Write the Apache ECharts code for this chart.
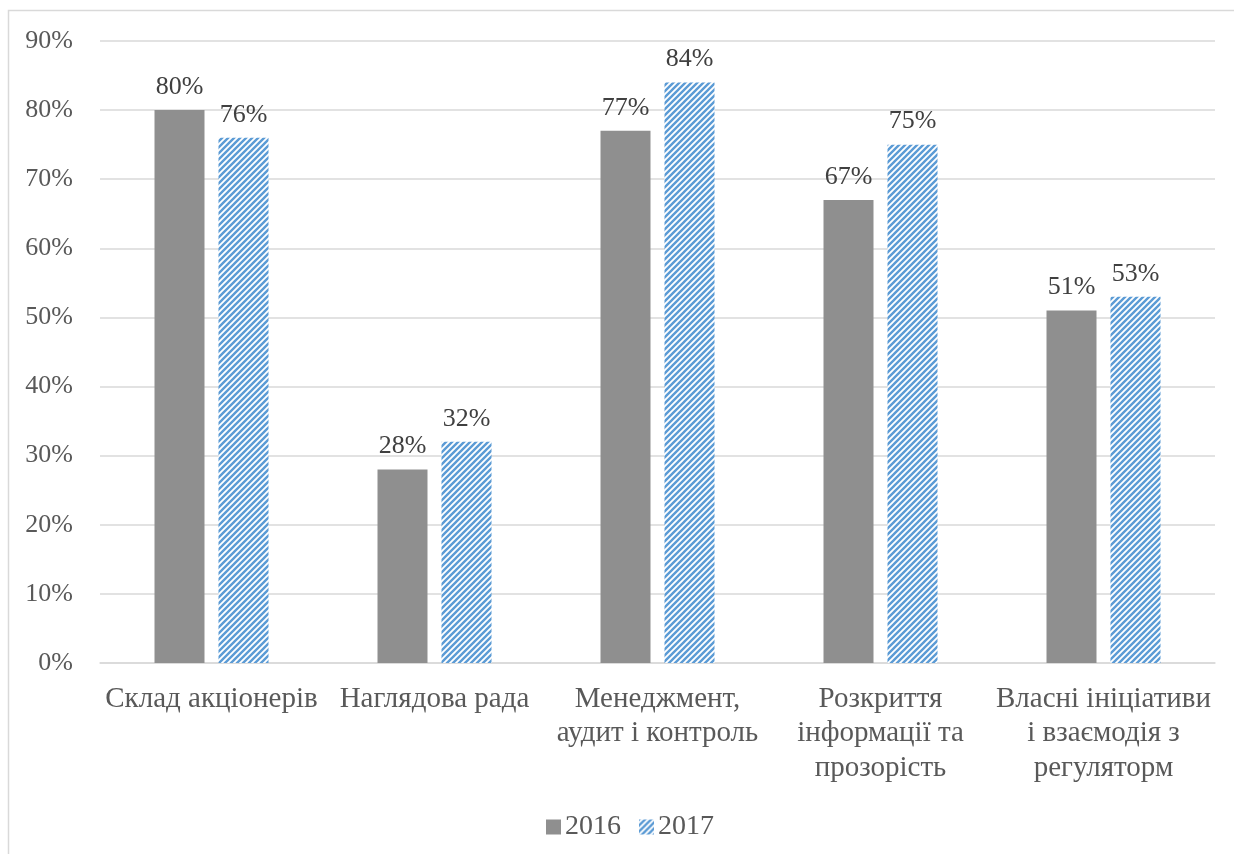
<!DOCTYPE html>
<html>
<head>
<meta charset="utf-8">
<script src="https://cdn.jsdelivr.net/npm/echarts@6/dist/echarts.min.js"></script>
<style>
  html, body { margin: 0; padding: 0; background: #fff; }
  #chart { width: 1234px; height: 854px; }
</style>
</head>
<body>
<div id="chart"></div>
<script>
// Categories (wrapped the way they appear under the axis)
const categories = [
  'Склад акціонерів',
  'Наглядова рада',
  'Менеджмент,\nаудит і контроль',
  'Розкриття\nінформації та\nпрозорість',
  'Власні ініціативи\nі взаємодія з\nрегуляторм'
];
const seriesNames = ['2016', '2017'];
const values2016 = [80, 28, 77, 67, 51];
const values2017 = [76, 32, 84, 75, 53];
const yTicks = { min: 0, max: 90, interval: 10 };

const FONT = '"Liberation Serif", "DejaVu Serif", serif';
const TEXT = '#595959';

// Diagonal blue hatch used for the 2017 bars
function makeHatch() {
  const s = 6;
  const c = document.createElement('canvas');
  c.width = s; c.height = s;
  const g = c.getContext('2d');
  g.fillStyle = '#ffffff';
  g.fillRect(0, 0, s, s);
  g.strokeStyle = '#5B9BD5';
  g.lineWidth = 2.4;
  g.lineCap = 'square';
  g.beginPath();
  g.moveTo(-1, s + 1); g.lineTo(s + 1, -1);
  g.moveTo(-1, 1); g.lineTo(1, -1);
  g.moveTo(s - 1, s + 1); g.lineTo(s + 1, s - 1);
  g.stroke();
  return c;
}
const hatch = { image: makeHatch(), repeat: 'repeat' };

const chart = echarts.init(document.getElementById('chart'), null, { renderer: 'canvas' });

const labelStyle = {
  show: true,
  position: 'top',
  distance: 10,
  formatter: p => p.value + '%',
  fontFamily: FONT,
  fontSize: 26,
  color: '#404040'
};

chart.setOption({
  backgroundColor: '#ffffff',
  animation: false,
  graphic: [{
    type: 'rect',
    shape: { x: 8.5, y: 10.5, width: 1300, height: 900 },
    style: { fill: 'none', stroke: '#d9d9d9', lineWidth: 1.5 },
    silent: true,
    z: -1
  }],
  grid: { left: 100, right: 19, top: 41, bottom: 191, containLabel: false },
  legend: {
    data: seriesNames,
    top: 808,
    left: 541,
    itemWidth: 15,
    itemHeight: 15,
    itemGap: 18,
    textStyle: { fontFamily: FONT, fontSize: 28, color: TEXT, padding: [0, 0, 0, -1] },
    icon: 'rect'
  },
  xAxis: {
    type: 'category',
    data: categories,
    axisLine: { lineStyle: { color: '#d9d9d9', width: 1.5 } },
    axisTick: { show: false },
    axisLabel: {
      interval: 0,
      margin: 19,
      fontFamily: FONT,
      fontSize: 29,
      lineHeight: 34.5,
      color: TEXT,
      align: 'center'
    }
  },
  yAxis: {
    type: 'value',
    min: yTicks.min,
    max: yTicks.max,
    interval: yTicks.interval,
    axisLine: { show: false },
    axisTick: { show: false },
    splitLine: { lineStyle: { color: '#d9d9d9', width: 1.5 } },
    axisLabel: {
      formatter: '{value}%',
      margin: 27,
      fontFamily: FONT,
      fontSize: 26,
      color: TEXT
    }
  },
  series: [
    {
      name: seriesNames[0],
      type: 'bar',
      data: values2016,
      barWidth: 50,
      barGap: '28%',
      itemStyle: { color: '#8f8f8f' },
      label: labelStyle
    },
    {
      name: seriesNames[1],
      type: 'bar',
      data: values2017,
      barWidth: 50,
      itemStyle: { color: hatch },
      label: labelStyle
    }
  ]
});
</script>
</body>
</html>
